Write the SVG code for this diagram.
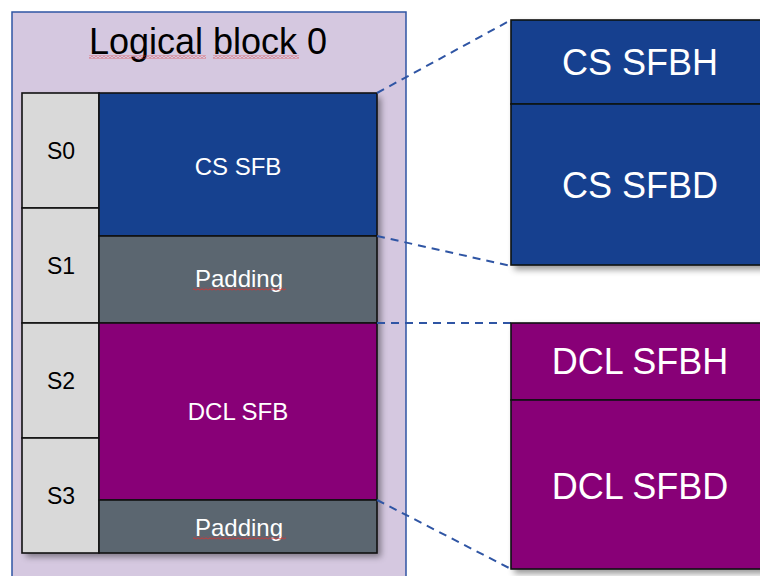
<svg xmlns="http://www.w3.org/2000/svg" width="760" height="576" viewBox="0 0 760 576">
<style>
  text{font-family:"Liberation Sans",Arial,sans-serif;text-anchor:middle}
  .cell{stroke:#111;stroke-width:1.6}
  .slot{fill:#D9D9D9}
  .cs{fill:#16418F}
  .pad{fill:#5B6670}
  .dcl{fill:#880077}
  .sm{font-size:23px;fill:#000}
  .mid{font-size:24px;fill:#fff}
  .big{font-size:36px;fill:#fff}
  .conn{fill:none;stroke:#2F55A4;stroke-width:2;stroke-dasharray:8 6}
  .sq{fill:url(#squig)}
</style>
<defs>
  <filter id="sh" x="-10%" y="-10%" width="130%" height="130%">
    <feDropShadow dx="4" dy="4" stdDeviation="3" flood-color="#000" flood-opacity="0.4"/>
  </filter>
  <pattern id="squig" width="4" height="3" patternUnits="userSpaceOnUse">
    <path d="M0 2.3 L2 0.7 L4 2.3" fill="none" stroke="#E03030" stroke-width="0.9"/>
  </pattern>
</defs>

<g id="logical-block">
  <rect x="12" y="12" width="394" height="580" fill="#D5C8E0" stroke="#2F55A4" stroke-width="1.5"/>
  <text x="208" y="54" style="font-size:36px;fill:#000">Logical block 0</text>
  <rect class="sq" x="89" y="55.5" width="117" height="3"/>
  <rect class="sq" x="213" y="55.5" width="86" height="3"/>
</g>

<g id="block-body" filter="url(#sh)">
  <rect x="22" y="93" width="355" height="460" fill="#D9D9D9"/>
</g>

<g id="S0">
  <rect class="cell slot" x="22" y="93" width="77" height="115"/>
  <text class="sm" x="61" y="159">S0</text>
</g>
<g id="S1">
  <rect class="cell slot" x="22" y="208" width="77" height="115"/>
  <text class="sm" x="61" y="274">S1</text>
</g>
<g id="S2">
  <rect class="cell slot" x="22" y="323" width="77" height="115"/>
  <text class="sm" x="61" y="389">S2</text>
</g>
<g id="S3">
  <rect class="cell slot" x="22" y="438" width="77" height="115"/>
  <text class="sm" x="61" y="504">S3</text>
</g>

<g id="cs-sfb">
  <rect class="cell cs" x="99" y="93" width="278" height="143"/>
  <text class="mid" x="238" y="175">CS SFB</text>
</g>
<g id="padding-1">
  <rect class="cell pad" x="99" y="236" width="278" height="87"/>
  <text class="mid" x="239" y="287">Padding</text>
  <rect class="sq" x="193" y="287.5" width="93" height="3"/>
</g>
<g id="dcl-sfb">
  <rect class="cell dcl" x="99" y="323" width="278" height="177"/>
  <text class="mid" x="238" y="420">DCL SFB</text>
</g>
<g id="padding-2">
  <rect class="cell pad" x="99" y="500" width="278" height="53"/>
  <text class="mid" x="239" y="536">Padding</text>
  <rect class="sq" x="193" y="536.5" width="93" height="3"/>
</g>

<g id="connectors">
  <line class="conn" x1="377" y1="93" x2="511" y2="20"/>
  <line class="conn" x1="377" y1="236" x2="511" y2="266"/>
  <line class="conn" x1="377" y1="323" x2="511" y2="323"/>
  <line class="conn" x1="377" y1="500" x2="511" y2="569"/>
</g>

<g id="cs-detail" filter="url(#sh)">
  <rect class="cell cs" x="511" y="20" width="270" height="84"/>
  <rect class="cell cs" x="511" y="104" width="270" height="161"/>
</g>
<g id="cs-sfbh">
  <text class="big" x="640" y="75">CS SFBH</text>
</g>
<g id="cs-sfbd">
  <text class="big" x="640" y="198">CS SFBD</text>
</g>

<g id="dcl-detail" filter="url(#sh)">
  <rect class="cell dcl" x="511" y="323" width="270" height="77"/>
  <rect class="cell dcl" x="511" y="400" width="270" height="169"/>
</g>
<g id="dcl-sfbh">
  <text class="big" x="640" y="374">DCL SFBH</text>
</g>
<g id="dcl-sfbd">
  <text class="big" x="640" y="499">DCL SFBD</text>
</g>
</svg>
